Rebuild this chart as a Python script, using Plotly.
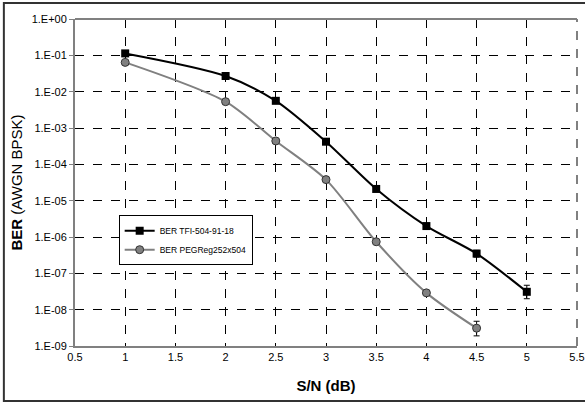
import plotly.graph_objects as go

x_tfi = [1, 2, 2.5, 3, 3.5, 4, 4.5, 5]
ber_tfi = [0.113, 0.027, 5.6e-3, 4.2e-4, 2.1e-5, 2.0e-6, 3.5e-7, 3.1e-8]
err_tfi_plus = [None, None, None, None, None, 0.3e-6, 0.8e-7, 1.6e-8]
err_tfi_minus = [None, None, None, None, None, 0.3e-6, 0.7e-7, 1.1e-8]

x_peg = [1, 2, 2.5, 3, 3.5, 4, 4.5]
ber_peg = [0.064, 5.3e-3, 4.4e-4, 3.8e-5, 7.4e-7, 2.9e-8, 3.1e-9]
err_peg_plus = [None, None, None, None, None, None, 1.7e-9]
err_peg_minus = [None, None, None, None, None, None, 1.2e-9]

y_tickvals = [1, 1e-1, 1e-2, 1e-3, 1e-4, 1e-5, 1e-6, 1e-7, 1e-8, 1e-9]
y_ticktext = ["1.E+00", "1.E-01", "1.E-02", "1.E-03", "1.E-04", "1.E-05",
              "1.E-06", "1.E-07", "1.E-08", "1.E-09"]
x_tickvals = [0.5, 1, 1.5, 2, 2.5, 3, 3.5, 4, 4.5, 5, 5.5]

font = "Liberation Sans, Arial, sans-serif"

fig = go.Figure()
fig.add_trace(go.Scatter(
    x=x_tfi, y=ber_tfi, name="BER TFI-504-91-18", mode="lines+markers",
    line=dict(color="black", width=2, shape="spline", smoothing=0.8),
    marker=dict(symbol="square", size=8, color="black"),
    error_y=dict(type="data", symmetric=False, array=err_tfi_plus,
                 arrayminus=err_tfi_minus, color="black", thickness=1, width=3),
))
fig.add_trace(go.Scatter(
    x=x_peg, y=ber_peg, name="BER PEGReg252x504", mode="lines+markers",
    line=dict(color="#808080", width=2, shape="spline", smoothing=0.8),
    marker=dict(symbol="circle", size=8, color="#808080",
                line=dict(color="#333333", width=1)),
    error_y=dict(type="data", symmetric=False, array=err_peg_plus,
                 arrayminus=err_peg_minus, color="black", thickness=1, width=3),
))

fig.update_layout(
    width=585, height=402,
    margin=dict(l=75, r=8, t=19, b=56),
    paper_bgcolor="white", plot_bgcolor="white",
    font=dict(family=font, size=11, color="black"),
    showlegend=True,
    legend=dict(x=0.087, y=0.40, xanchor="left", yanchor="top",
                bgcolor="white", bordercolor="black", borderwidth=1,
                font=dict(size=8.5, family=font, color="black"), tracegroupgap=0,
                itemwidth=30),
    xaxis=dict(range=[0.5, 5.5], tickvals=x_tickvals,
               ticktext=[str(v) for v in x_tickvals],
               ticklabeloverflow="allow", automargin=False,
               showgrid=True, gridcolor="black", griddash="dash", gridwidth=1,
               showline=True, linecolor="#808080", linewidth=2, mirror=False,
               zeroline=False, ticks="", ticklen=0,
               title=dict(text="<b>S/N (dB)</b>",
                          font=dict(size=15, family=font, color="black"), standoff=18)),
    yaxis=dict(type="log", range=[-9, 0], tickvals=y_tickvals, ticktext=y_ticktext,
               automargin=False,
               showgrid=True, gridcolor="black", griddash="dash", gridwidth=1,
               showline=True, linecolor="#808080", linewidth=2,
               zeroline=False, ticks="outside", ticklen=4, tickcolor="#808080",
               title=dict(text="<b>BER</b> (AWGN BPSK)",
                          font=dict(size=15, family=font, color="black"), standoff=5)),
    shapes=[
        dict(type="line", xref="paper", yref="paper", x0=0, x1=1, y0=1, y1=1,
             line=dict(color="#808080", width=2)),
        dict(type="line", xref="paper", yref="paper", x0=1, x1=1, y0=0, y1=1,
             line=dict(color="#808080", width=2, dash="dash")),
        dict(type="rect", xref="paper", yref="paper",
             x0=-0.1417, x1=1.03, y0=-0.168, y1=1.049,
             line=dict(color="#333333", width=2)),
    ],
)

fig.write_html("out.html", config={"displayModeBar": False},
               post_script="document.body.style.margin='0';document.body.style.overflow='hidden';")
